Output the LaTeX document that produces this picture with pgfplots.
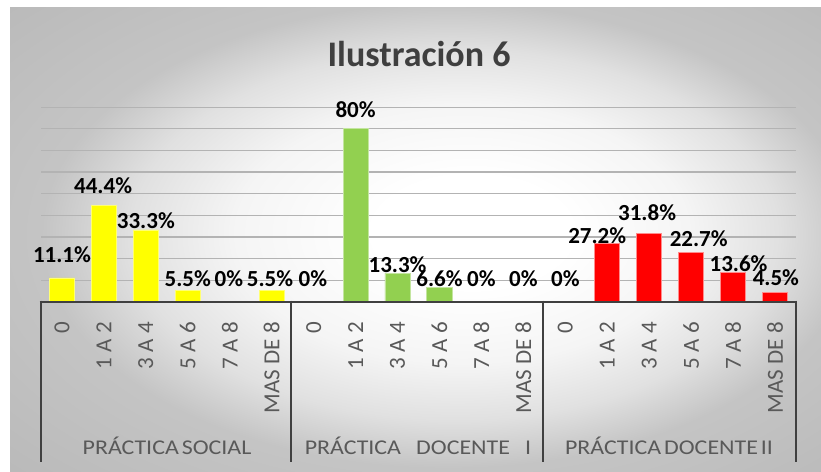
\documentclass[border=0pt]{standalone}
\usepackage{pgfplots}
\pgfplotsset{compat=1.18}
\usepackage{pgfplotstable}
\usepackage{graphicx}
\usepackage{fontspec}
\setmainfont{Carlito}

\definecolor{cyel}{HTML}{FFFF00}
\definecolor{cgrn}{HTML}{92D050}
\definecolor{cred}{HTML}{FF0000}
\definecolor{tickgray}{HTML}{595959}
\definecolor{axisgray}{HTML}{404040}
\definecolor{gridc}{HTML}{B3B3B3}
\definecolor{titlec}{HTML}{3F3F3F}

\pgfdeclareradialshading{bgshade}{\pgfpoint{4bp}{1bp}}{%
  color(0bp)=(white); color(6bp)=(white); color(14bp)=(black!4);
  color(20bp)=(black!12); color(25bp)=(black!23); color(36bp)=(black!27); color(50bp)=(black!27)}

\pgfplotstableread{
x y
0 11.1
1 44.4
2 33.3
3 5.5
4 0
5 5.5
}\social
\pgfplotstableread{
x y
6 0
7 80
8 13.3
9 6.6
10 0
11 0
}\docI
\pgfplotstableread{
x y
12 0
13 27.2
14 31.8
15 22.7
16 13.6
17 4.5
}\docII
\pgfplotstableread{
x y lab
0 18.0 11.1
0.98 49.9 44.4
2.0 34.0 33.3
3.0 7.0 5.5
3.98 7.0 0
4.96 7.0 5.5
5.98 7.0 0
7.0 85.0 80
8.0 13.5 13.3
9.0 7.0 6.6
10.0 7.0 0
11.0 7.0 0
12.0 7.0 0
12.76 26.8 27.2
13.95 37.6 31.8
15.18 25.4 22.7
16.13 13.7 13.6
17.02 7.3 4.5
}\labels

\begin{document}
\begin{tikzpicture}[x=1bp,y=1bp]
\fill[white] (0,0) rectangle (821,472);
\shade[shading=bgshade] (10,0) rectangle (821,464);
\node[anchor=base, font=\bfseries\fontsize{36bp}{40bp}\selectfont, text=titlec] at (419,405) {Ilustración 6};
\begin{axis}[
  at={(41bp,170bp)}, anchor=south west,
  scale only axis, width=755bp, height=194.8bp,
  xmin=-0.5, xmax=17.5, ymin=0, ymax=90,
  axis line style={draw=none}, major tick length=0pt,
  ytick={10,20,...,90}, yticklabels={},
  ymajorgrids, grid style={color=gridc, line width=1.3bp},
  xtick={0,...,17},
  xticklabels={0,1 A 2,3 A 4,5 A 6,7 A 8,MAS DE 8,0,1 A 2,3 A 4,5 A 6,7 A 8,MAS DE 8,0,1 A 2,3 A 4,5 A 6,7 A 8,MAS DE 8},
  xticklabel style={rotate=90, anchor=east, inner sep=0pt, font=\fontsize{23bp}{26bp}\selectfont, text=tickgray},
  xticklabel shift=20bp,
  clip=false,
]
\addplot[ybar, bar width=0.6, bar shift=0pt, fill=cyel, draw=cyel!55!white, line width=0.8bp] table[x=x,y=y]{\social};
\addplot[ybar, bar width=0.6, bar shift=0pt, fill=cgrn, draw=cgrn!55!white, line width=0.8bp] table[x=x,y=y]{\docI};
\addplot[ybar, bar width=0.6, bar shift=0pt, fill=cred, draw=cred!45!white, line width=0.8bp] table[x=x,y=y]{\docII};
\addplot[draw=none, mark=none, point meta=explicit symbolic,
  nodes near coords={\pgfplotspointmeta\%},
  every node near coord/.append style={inner sep=0pt, font=\bfseries\fontsize{23bp}{26bp}\selectfont, text=black}]
  table[x=x,y=y,meta=lab]{\labels};
\end{axis}
\draw[line width=2.6bp, axisgray] (39.7,170) -- (797.3,170);
\foreach \xx in {41,291,543,796} {\draw[line width=2.6bp, axisgray] (\xx,171.3) -- (\xx,10);}
\node[anchor=base, font=\fontsize{21bp}{24bp}\selectfont, text=tickgray] at (167,17) {\scalebox{1.14}[1]{PRÁCTICA\hspace{0.12em}SOCIAL}};
\node[anchor=base, font=\fontsize{21bp}{24bp}\selectfont, text=tickgray] at (418,17) {\scalebox{1.14}[1]{PRÁCTICA\hspace{0.63em}DOCENTE\hspace{0.63em}I}};
\node[anchor=base, font=\fontsize{21bp}{24bp}\selectfont, text=tickgray] at (669,17) {\scalebox{1.14}[1]{PRÁCTICA\hspace{0.12em}DOCENTE\hspace{0.12em}II}};
\end{tikzpicture}
\end{document}
